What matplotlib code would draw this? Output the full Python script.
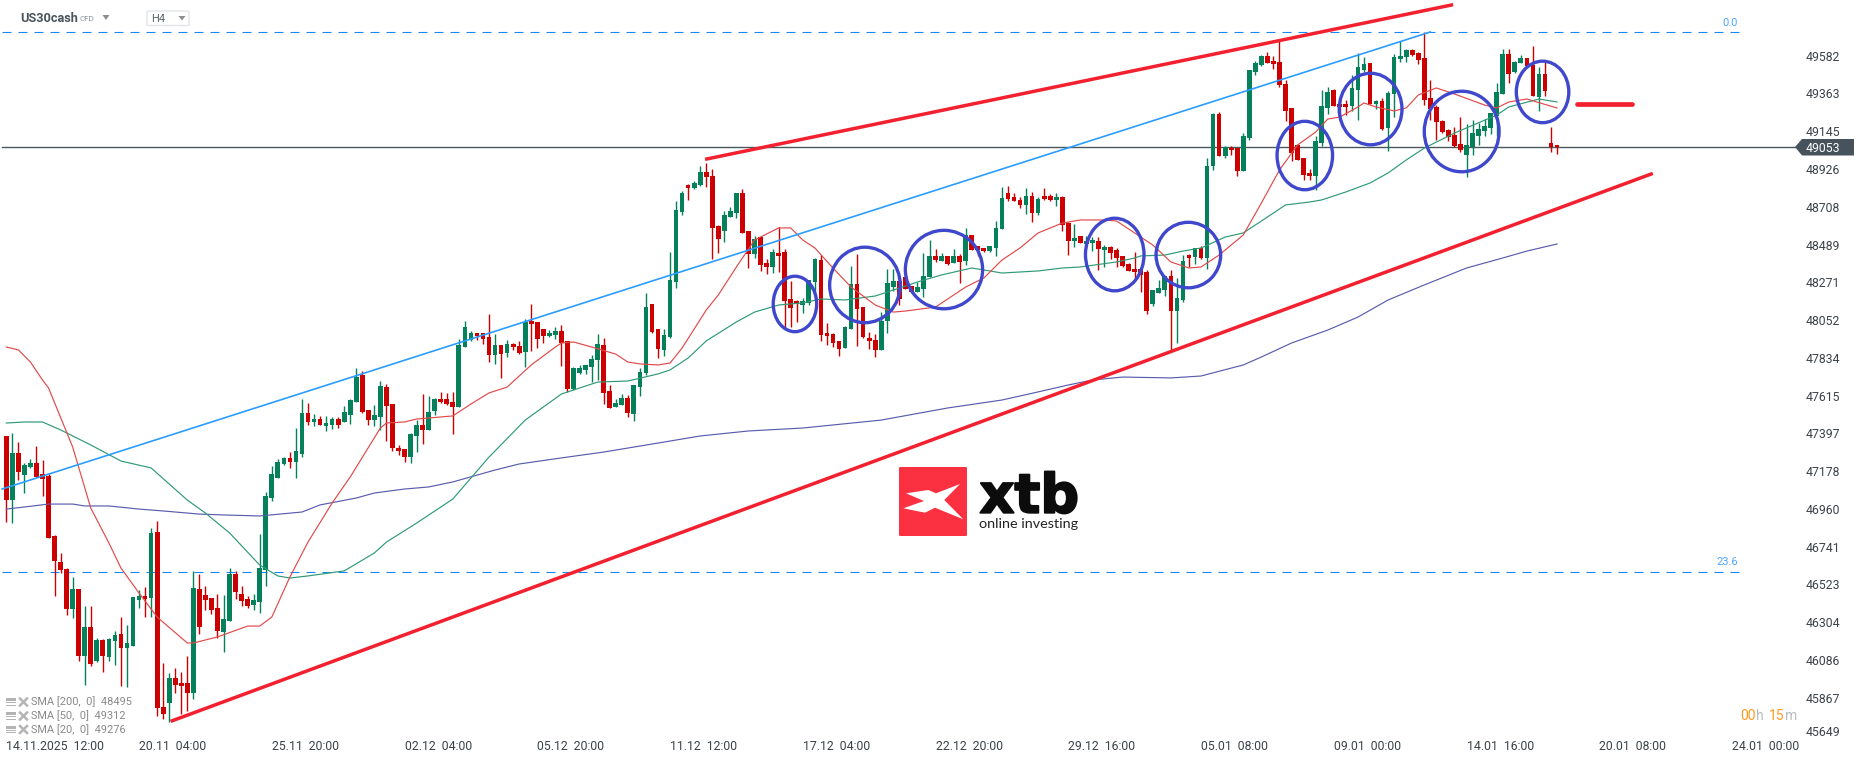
"""US30cash H4 candlestick chart with channel lines and moving averages."""

import matplotlib
matplotlib.use("Agg")
import matplotlib.patheffects as pe
import matplotlib.pyplot as plt
from matplotlib.patches import Ellipse, FancyBboxPatch, Polygon, Rectangle
from matplotlib.lines import Line2D
from matplotlib.transforms import ScaledTranslation

W, H = 1866, 761

opens = [
    47381, 47011, 47281, 47156, 47200, 47225, 47161, 47150, 46803, 46652,
    46612, 46380, 46496, 46108, 46276, 46079, 46201, 46102, 46195, 46235,
    46154, 46166, 46432, 46455, 46444, 46826, 45813, 45836, 45981, 45952,
    45952, 45894, 46496, 46461, 46444, 46386, 46247, 46311, 46583, 46467,
    46438, 46403, 46421, 46606, 47022, 47138, 47219, 47254, 47231, 47277,
    47514, 47462, 47479, 47439, 47445, 47479, 47462, 47503, 47578, 47734,
    47532, 47474, 47491, 47665, 47566, 47312, 47306, 47260, 47381, 47445,
    47416, 47526, 47595, 47595, 47578, 47549, 47896, 47937, 47977, 47977,
    47954, 47850, 47908, 47861, 47913, 47902, 47867, 48047, 48041, 48000,
    47960, 47966, 47989, 47931, 47653, 47746, 47763, 47780, 47821, 47908,
    47641, 47549, 47561, 47601, 47508, 47665, 47746, 48145, 48000, 47878,
    47954, 48272, 48677, 48833, 48816, 48833, 48909, 48885, 48596, 48567,
    48648, 48671, 48787, 48567, 48434, 48532, 48382, 48359, 48440, 48446,
    48174, 48162, 48139, 48150, 48272, 48399, 47977, 47971, 47931, 47890,
    48000, 48260, 48127, 47948, 47936, 47878, 48046, 48243, 48278, 48301,
    48249, 48214, 48231, 48301, 48422, 48393, 48422, 48382, 48422, 48393,
    48544, 48480, 48469, 48451, 48469, 48579, 48787, 48764, 48747, 48717,
    48769, 48671, 48769, 48769, 48746, 48764, 48613, 48509, 48538, 48492,
    48497, 48509, 48457, 48474, 48457, 48422, 48376, 48347, 48347, 48330,
    48144, 48208, 48225, 48306, 48104, 48168, 48428, 48416, 48468, 48411,
    48943, 49244, 49001, 49047, 49047, 48914, 49105, 49487, 49527, 49580,
    49551, 49545, 49417, 49279, 49064, 48989, 48902, 48885, 49076, 49279,
    49383, 49302, 49302, 49290, 49383, 49499, 49539, 49302, 49319, 49163,
    49360, 49562, 49574, 49614, 49597, 49568, 49336, 49284, 49203, 49151,
    49122, 49070, 49007, 49053, 49117, 49145, 49163, 49232, 49360, 49591,
    49487, 49539, 49568, 49527, 49342, 49475, 49076, 49065,
]
closes = [
    47011, 47281, 47173, 47213, 47225, 47144, 47134, 46793, 46660, 46606,
    46380, 46496, 46108, 46276, 46062, 46201, 46108, 46206, 46230, 46154,
    46183, 46450, 46455, 46438, 46820, 45807, 45773, 45981, 45940, 45935,
    45894, 46502, 46276, 46432, 46374, 46253, 46322, 46583, 46478, 46426,
    46397, 46432, 46617, 47034, 47161, 47231, 47254, 47231, 47294, 47514,
    47462, 47479, 47445, 47456, 47479, 47445, 47520, 47589, 47723, 47520,
    47474, 47503, 47670, 47555, 47312, 47294, 47260, 47393, 47445, 47416,
    47520, 47595, 47578, 47566, 47549, 47908, 48012, 47977, 47960, 47942,
    47850, 47908, 47856, 47913, 47896, 47861, 48041, 48029, 47942, 47960,
    47977, 47989, 47919, 47653, 47775, 47775, 47792, 47827, 47913, 47630,
    47543, 47572, 47601, 47514, 47676, 47751, 48127, 47983, 47884, 47965,
    48284, 48689, 48787, 48816, 48845, 48909, 48880, 48584, 48521, 48660,
    48683, 48787, 48556, 48434, 48521, 48370, 48359, 48446, 48422, 48162,
    48122, 48145, 48162, 48284, 48405, 47965, 47959, 47919, 47884, 48012,
    48260, 48116, 47954, 47931, 47878, 48046, 48266, 48278, 48174, 48231,
    48214, 48243, 48307, 48422, 48399, 48422, 48376, 48422, 48388, 48544,
    48457, 48457, 48451, 48480, 48584, 48758, 48752, 48741, 48718, 48769,
    48671, 48752, 48752, 48746, 48764, 48602, 48509, 48526, 48497, 48509,
    48515, 48463, 48474, 48440, 48411, 48364, 48335, 48330, 48312, 48104,
    48225, 48237, 48306, 48104, 48179, 48393, 48411, 48468, 48411, 48943,
    49244, 49001, 49053, 49036, 48914, 49117, 49499, 49539, 49580, 49539,
    49533, 49412, 49261, 49018, 48978, 48891, 48885, 49088, 49290, 49371,
    49290, 49284, 49284, 49394, 49516, 49533, 49302, 49319, 49157, 49365,
    49574, 49580, 49614, 49585, 49556, 49325, 49273, 49198, 49140, 49111,
    49059, 49036, 49064, 49134, 49157, 49174, 49250, 49371, 49591, 49475,
    49545, 49568, 49522, 49348, 49475, 49377, 49053, 49053,
]
highs = [
    47381, 47397, 47347, 47227, 47248, 47323, 47242, 47161, 46806, 46704,
    46617, 46565, 46496, 46397, 46397, 46212, 46206, 46212, 46253, 46334,
    46287, 46452, 46490, 46507, 46849, 46889, 46068, 46010, 46039, 46016,
    46108, 46600, 46583, 46513, 46444, 46467, 46461, 46617, 46600, 46513,
    46455, 46467, 46814, 47057, 47207, 47248, 47260, 47288, 47427, 47595,
    47572, 47508, 47497, 47497, 47491, 47491, 47555, 47595, 47775, 47757,
    47532, 47561, 47699, 47682, 47566, 47329, 47306, 47398, 47474, 47624,
    47613, 47601, 47636, 47630, 47636, 47942, 48047, 47989, 47977, 47977,
    48087, 47971, 47908, 47937, 47919, 47931, 48058, 48145, 48041, 48000,
    47995, 48012, 48023, 47931, 47780, 47792, 47792, 47850, 47971, 47948,
    47676, 47595, 47624, 47618, 47676, 47775, 48208, 48145, 48000, 48000,
    48446, 48741, 48799, 48839, 48856, 48943, 48961, 48926, 48602, 48683,
    48706, 48787, 48810, 48567, 48538, 48532, 48405, 48463, 48590, 48463,
    48278, 48168, 48179, 48284, 48411, 48428, 48035, 47977, 47931, 48017,
    48365, 48434, 48127, 47983, 47971, 48098, 48347, 48347, 48278, 48301,
    48249, 48272, 48440, 48515, 48463, 48440, 48422, 48463, 48434, 48584,
    48544, 48480, 48469, 48480, 48625, 48822, 48828, 48787, 48764, 48816,
    48793, 48764, 48816, 48781, 48787, 48769, 48619, 48607, 48538, 48538,
    48532, 48532, 48486, 48480, 48468, 48422, 48382, 48445, 48347, 48341,
    48225, 48283, 48306, 48341, 48295, 48428, 48434, 48468, 48480, 48989,
    49250, 49255, 49059, 49059, 49047, 49134, 49499, 49551, 49585, 49603,
    49580, 49672, 49441, 49279, 49070, 48989, 48926, 49117, 49383, 49400,
    49389, 49325, 49325, 49470, 49597, 49574, 49539, 49325, 49336, 49377,
    49591, 49666, 49620, 49620, 49603, 49718, 49441, 49296, 49209, 49157,
    49169, 49227, 49186, 49209, 49192, 49215, 49250, 49423, 49620, 49620,
    49551, 49585, 49568, 49637, 49516, 49545, 49169, 49065,
]
lows = [
    46885, 46880, 47127, 47053, 47194, 47144, 47034, 46793, 46457, 46590,
    46345, 46328, 46079, 45940, 46050, 46073, 46016, 46079, 46056, 45935,
    45929, 46166, 46386, 46334, 46334, 45761, 45744, 45726, 45894, 45773,
    45790, 45859, 46235, 46374, 46351, 46212, 46131, 46311, 46438, 46397,
    46386, 46374, 46357, 46513, 47005, 47138, 47213, 47196, 47138, 47260,
    47445, 47439, 47445, 47410, 47422, 47427, 47462, 47451, 47578, 47514,
    47445, 47439, 47416, 47352, 47294, 47271, 47231, 47225, 47288, 47335,
    47416, 47503, 47572, 47561, 47393, 47549, 47896, 47931, 47937, 47913,
    47809, 47798, 47717, 47838, 47879, 47856, 47780, 47873, 47890, 47919,
    47954, 47942, 47786, 47636, 47647, 47740, 47740, 47694, 47705, 47566,
    47543, 47549, 47561, 47491, 47468, 47613, 47734, 47977, 47832, 47844,
    47948, 48237, 48660, 48747, 48810, 48828, 48822, 48405, 48440, 48503,
    48648, 48642, 48556, 48353, 48411, 48336, 48318, 48324, 48330, 48006,
    48012, 48040, 48093, 48139, 48203, 47931, 47907, 47896, 47844, 47890,
    48000, 47902, 47948, 47884, 47838, 47878, 47977, 48220, 48139, 48231,
    48214, 48214, 48185, 48301, 48388, 48393, 48370, 48382, 48266, 48370,
    48457, 48422, 48446, 48446, 48422, 48579, 48741, 48741, 48700, 48665,
    48619, 48659, 48746, 48740, 48712, 48567, 48428, 48474, 48497, 48492,
    48451, 48341, 48359, 48405, 48359, 48359, 48335, 48283, 48214, 48087,
    48133, 48208, 48191, 47878, 47919, 48156, 48359, 48376, 48405, 48347,
    48920, 49001, 48989, 49007, 48885, 48914, 49093, 49470, 49522, 49539,
    49504, 49400, 49203, 48972, 48978, 48862, 48862, 48804, 49059, 49244,
    49290, 49244, 49238, 49261, 49209, 49487, 49302, 49273, 49151, 49030,
    49227, 49545, 49545, 49580, 49533, 49296, 49209, 49093, 49134, 49088,
    49053, 49024, 48879, 49007, 49064, 49117, 49128, 49117, 49360, 49423,
    49481, 49539, 49522, 49348, 49261, 49348, 49024, 49012,
]

sma20_idx = [
    0, 2, 4, 6, 7, 11, 14, 17, 19, 22, 25, 30, 31, 35, 40, 42, 44, 47, 50, 54,
    57, 62, 63, 66, 68, 74, 77, 80, 83, 87, 91, 92, 94, 97, 101, 103, 105, 108,
    110, 112, 116, 118, 121, 124, 128, 130, 132, 134, 137, 140, 144, 147, 149,
    154, 159, 162, 165, 168, 171, 175, 178, 182, 184, 187, 190, 193, 196, 198,
    201, 205, 208, 211, 214, 217, 219, 221, 224, 225, 227, 230, 232, 234, 237,
    240, 245, 247, 249, 252, 257,
]
sma20_val = [
    47896, 47879, 47809, 47705, 47659, 47317, 46964, 46762, 46617, 46472, 46333,
    46183, 46183, 46218, 46281, 46281, 46333, 46565, 46767, 46993, 47144, 47427,
    47456, 47462, 47479, 47497, 47566, 47630, 47664, 47792, 47896, 47919, 47925,
    47896, 47855, 47809, 47798, 47792, 47803, 47890, 48110, 48197, 48359, 48515,
    48585, 48585, 48515, 48469, 48353, 48243, 48139, 48098, 48104, 48127, 48243,
    48295, 48399, 48469, 48556, 48613, 48631, 48631, 48625, 48556, 48486, 48388,
    48353, 48359, 48428, 48544, 48729, 48920, 49065, 49140, 49215, 49227, 49285,
    49308, 49285, 49262, 49279, 49354, 49395, 49360, 49296, 49279, 49314, 49331,
    49279,
]
sma50_idx = [
    0, 3, 6, 9, 14, 19, 24, 30, 33, 37, 42, 45, 47, 50, 56, 61, 63, 68, 74, 80,
    86, 92, 98, 103, 108, 110, 113, 116, 121, 124, 128, 132, 135, 139, 144, 148,
    151, 155, 160, 163, 165, 171, 175, 178, 184, 187, 188, 192, 195, 198, 202,
    205, 209, 212, 216, 218, 222, 226, 229, 232, 235, 240, 247, 249, 254, 257,
]
sma50_val = [
    47456, 47462, 47462, 47416, 47329, 47236, 47196, 47010, 46935, 46820, 46634,
    46571, 46559, 46571, 46600, 46704, 46767, 46877, 47016, 47259, 47473, 47624,
    47693, 47699, 47740, 47763, 47832, 47931, 48041, 48098, 48139, 48151, 48174,
    48168, 48191, 48237, 48272, 48313, 48353, 48336, 48324, 48336, 48353, 48359,
    48388, 48411, 48423, 48428, 48451, 48469, 48532, 48556, 48648, 48718, 48735,
    48747, 48793, 48845, 48903, 48978, 49047, 49134, 49238, 49285, 49331, 49314,
]
sma200_idx = [
    0, 3, 7, 11, 13, 17, 22, 26, 32, 36, 42, 49, 52, 58, 61, 66, 70, 74, 81, 85,
    92, 99, 108, 115, 123, 132, 145, 156, 165, 171, 176, 180, 185, 193, 198, 205,
    208, 213, 219, 224, 229, 235, 242, 248, 252, 257,
]
sma200_val = [
    46958, 46970, 46987, 46987, 46976, 46976, 46958, 46947, 46929, 46924, 46918,
    46941, 46982, 47022, 47051, 47074, 47086, 47115, 47184, 47219, 47254, 47288,
    47340, 47381, 47410, 47427, 47473, 47543, 47589, 47636, 47676, 47705, 47722,
    47717, 47728, 47792, 47838, 47919, 47994, 48069, 48168, 48255, 48353, 48411,
    48451, 48492,
]

x_tick_idx = [i * 22 for i in range(14)]
x_tick_labels = [
    "14.11.2025  12:00", "20.11  04:00", "25.11  20:00", "02.12  04:00",
    "05.12  20:00", "11.12  12:00", "17.12  04:00", "22.12  20:00",
    "29.12  16:00", "05.01  08:00", "09.01  00:00", "14.01  16:00",
    "20.01  08:00", "24.01  00:00",
]
y_ticks = [
    49582, 49363, 49145, 48926, 48708, 48489, 48271, 48052, 47834, 47615,
    47397, 47178, 46960, 46741, 46523, 46304, 46086, 45867, 45649,
]

last_price = 49053
fib_levels = [49719, 46596]
fib_labels = ["0.0", "23.6"]

blue_line_idx = [-0.7, 236]
blue_line_val = [47074, 49719]
upper_line_idx = [116.1, 239.5]
upper_line_val = [48984, 49875]
lower_line_idx = [27.5, 272.6]
lower_line_val = [45733, 48897]
target_idx = [260.3, 269.4]
target_val = [49300, 49300]

# centre index, centre price, width in candles, height in points
circles = [
    (130.7, 48145, 7.2, 321), (142.3, 48255, 11.7, 437), (155.4, 48344, 12.8, 454),
    (183.7, 48431, 9.7, 420), (195.9, 48428, 10.7, 379), (215.2, 49004, 9.2, 396),
    (226.1, 49273, 10.4, 414), (241.2, 49143, 12.4, 466), (254.6, 49372, 8.7, 356),
]

legend_rows = ["SMA [200,  0]  48495", "SMA [50,  0]  49312", "SMA [20,  0]  49276"]

GREEN = "#04805a"
RED = "#cc0000"
CHANNEL = "#f3202f"
TEXT = "#3c4348"

plt.rcParams["font.family"] = ["Roboto", "DejaVu Sans"]

fig = plt.figure(figsize=(W / 100, H / 100), dpi=100, facecolor="white")
ax = fig.add_axes([0, 0, 1, 1])
ax.set_xlim(-6.3 / 6.034, (W - 6.3) / 6.034)
ax.set_ylim(49904 - 5.787 * H, 49904)
for side in ax.spines.values():
    side.set_visible(False)

idx = list(range(len(opens)))
colors = [GREEN if c >= o else RED for o, c in zip(opens, closes)]
ax.vlines(idx, lows, highs, colors=colors, lw=1.0, zorder=3)
ax.bar(idx, [abs(c - o) for o, c in zip(opens, closes)],
       bottom=[min(o, c) for o, c in zip(opens, closes)],
       width=0.78, color=colors, linewidth=0, zorder=3)

# fibo levels and last price line
for level in fib_levels:
    ax.plot([-0.7, 287.3], [level, level], color="#1688f5", lw=0.8,
            dashes=(8.1, 6.3), zorder=2)
ax.plot([-0.7, 296.5], [last_price, last_price], color="#4a575c", lw=1.0, zorder=2)

ax.plot(sma200_idx, sma200_val, color="#5a5cae", lw=0.85, zorder=4)
ax.plot(sma50_idx, sma50_val, color="#2f9a76", lw=0.85, zorder=4)
ax.plot(sma20_idx, sma20_val, color="#e04a4a", lw=0.85, zorder=4)

ax.plot(blue_line_idx, blue_line_val, color="#2b9dff", lw=1.2, zorder=5)
ax.plot(upper_line_idx, upper_line_val, color=CHANNEL, lw=2.5, zorder=5)
ax.plot(lower_line_idx, lower_line_val, color=CHANNEL, lw=2.5, zorder=5)
ax.plot(target_idx, target_val, color=CHANNEL, lw=3.4, solid_capstyle="round", zorder=5)

for cx, cy, w, h in circles:
    ax.add_patch(Ellipse((cx, cy), w, h, fill=False, edgecolor="#3f48cc", lw=2.4, zorder=6))

# axes labels sit inside the picture, like the platform draws them
ax.set_xticks(x_tick_idx, x_tick_labels)
ax.tick_params(axis="x", length=0, pad=-15.4, labelsize=8.8, labelcolor=TEXT)
for lab in ax.get_xticklabels():
    lab.set_ha("left")
ax.yaxis.tick_right()
ax.set_yticks(y_ticks, [str(v) for v in y_ticks])
ax.tick_params(axis="y", length=0, pad=-43.2, labelsize=8.8, labelcolor=TEXT)
for lab in ax.get_yticklabels():
    lab.set_ha("left")
# the platform squeezes the lowest price label up against the time scale
last_lab = ax.get_yticklabels()[-1]
last_lab.set_transform(last_lab.get_transform() + ScaledTranslation(0, 3 / 72, fig.dpi_scale_trans))


def fx(x):
    return x / W


def fy(y):
    return 1 - y / H


def put_text(x, y, s, **kw):
    kw.setdefault("va", "center")
    return fig.text(fx(x), fy(y), s, **kw)


def put_poly(points, color, zorder=7):
    fig.add_artist(Polygon([(fx(x), fy(y)) for x, y in points], closed=True,
                           transform=fig.transFigure, facecolor=color,
                           edgecolor="none", zorder=zorder))


# header
put_text(20, 18.5, "US30cash", fontsize=9.2, fontweight="bold", color="#4a545c")
put_text(79, 19, "CFD", fontsize=5.8, color="#8d9398")
put_poly([(102.5, 15), (109.5, 15), (106, 20)], "#8f8f8f")
fig.add_artist(FancyBboxPatch((fx(147), fy(25.5)), 42 / W, 14.5 / H,
                              boxstyle="round,pad=0,rounding_size=0.001",
                              transform=fig.transFigure, facecolor="white",
                              edgecolor="#e2e4e6", lw=1.0))
put_text(151, 19.5, "H4", fontsize=8, color="#5b6368")
put_poly([(178.5, 16), (185.5, 16), (182, 20.5)], "#8f8f8f")

# fibo labels
put_text(1738, 23.5, fib_labels[0], fontsize=8, color="#4da6ff", ha="right")
put_text(1738, 562, fib_labels[1], fontsize=8, color="#4da6ff", ha="right")

# last price tag
put_poly([(1795, 147), (1802, 139), (1854, 139), (1854, 155.5), (1802, 155.5)], "#46535c")
put_text(1806, 148.7, str(last_price), fontsize=8.8, color="white", zorder=8)

# countdown
put_text(1740, 716, "00", fontsize=10, color="#ff9a1f")
put_text(1756, 716, "h", fontsize=10, color="#b9bcbe")
put_text(1769, 716, "15", fontsize=10, color="#ff9a1f")
put_text(1785, 716, "m", fontsize=10, color="#b9bcbe")

# indicator legend
for row, y in zip(legend_rows, [702, 716, 729.5]):
    put_text(31, y, row, fontsize=7.9, color="#8a8a8a")
    for dy, dh in [(-4, 3), (0, 1.4), (2.5, 1.4)]:
        fig.add_artist(Rectangle((fx(6), fy(y + dy + dh)), 9.5 / W, dh / H,
                                 transform=fig.transFigure, facecolor="#b4b4b4",
                                 edgecolor="none"))
    for sgn in (1, -1):
        fig.add_artist(Line2D([fx(20), fx(27)], [fy(y - 3.5 * sgn), fy(y + 3.5 * sgn)],
                              transform=fig.transFigure, color="#b4b4b4", lw=1.8))

# xtb logo
fig.add_artist(FancyBboxPatch((fx(899), fy(536)), 68 / W, 69 / H,
                              boxstyle="round,pad=0,rounding_size=0.001",
                              transform=fig.transFigure, facecolor="#fb3040",
                              edgecolor="none", zorder=7))
put_poly([(960, 484), (944.3, 500), (963.3, 519.3), (935, 507.7), (925, 512.7),
          (903.3, 508.3), (924, 501), (906, 493.3), (928.3, 490), (936, 493.3)],
         "white", zorder=8)
logo = put_text(979.5, 512.7, "xtb", fontsize=39, fontfamily="DejaVu Sans", fontweight="bold",
                color="#0c0c0c", va="baseline")
logo.set_path_effects([pe.withStroke(linewidth=1.4, foreground="#0c0c0c")])
put_text(979, 528, "online investing", fontsize=10.4, fontfamily="Lato",
         color="#222222", va="baseline")

fig.savefig("out.png", dpi=100)
